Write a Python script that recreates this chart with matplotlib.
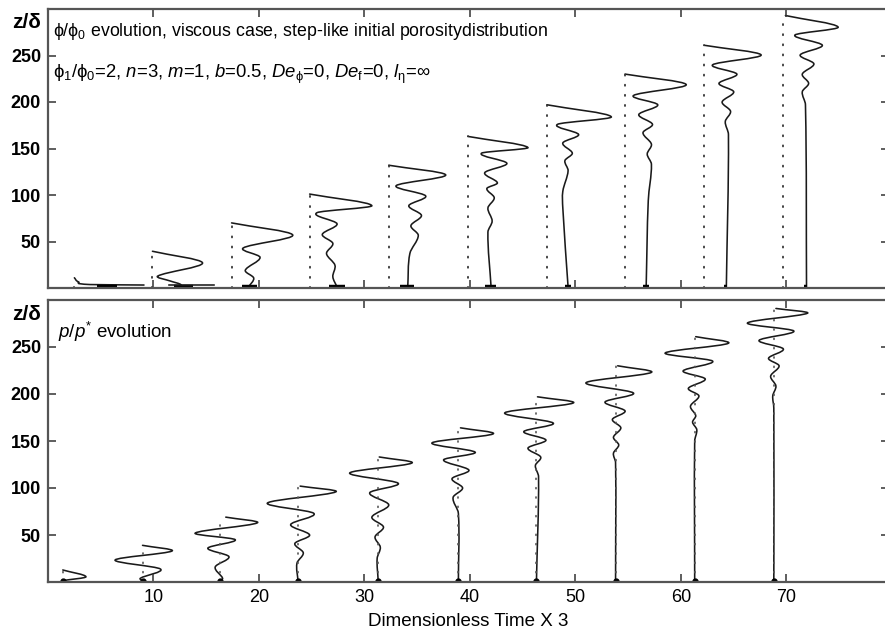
import matplotlib
matplotlib.use('Agg')
import matplotlib.pyplot as plt
from matplotlib.path import Path
from matplotlib.patches import PathPatch
import numpy as np

plt.rcParams['font.family'] = ['Liberation Sans', 'DejaVu Sans']
plt.rcParams['mathtext.fontset'] = 'custom'
plt.rcParams['mathtext.rm'] = 'Liberation Sans'
plt.rcParams['mathtext.it'] = 'Liberation Sans:italic'
plt.rcParams['mathtext.bf'] = 'Liberation Sans:bold'

# ---- porosity panel: time of each profile (dotted baseline) and profile points
top_t = [2.5, 9.9, 17.4, 24.8, 32.3, 39.8, 47.3, 54.7, 62.2, 69.7]
top_dx = [
    [0.0, 0.4, 1.5, 6.6],
    [0.0, 4.75, 0.5, 1.7, 2.65, 2.7],
    [0.0, 5.8, 1.1, 2.7, 1.3, 2.1, 1.6],
    [0.0, 5.9, 0.7, 2.6, 1.2, 2.2, 1.6, 2.4, 2.2, 2.6],
    [0.0, 5.4, 0.7, 3.5, 1.9, 3.1, 2.1, 2.8, 2.0, 1.8],
    [0.0, 5.7, 1.3, 3.7, 1.6, 2.8, 1.8, 2.5, 1.9, 2.3, 1.9, 2.2],
    [0.0, 6.1, 1.0, 3.0, 1.5, 2.4, 1.7, 2.0, 1.5, 1.5, 2.0],
    [0.0, 5.8, 0.8, 3.1, 1.3, 2.6, 1.7, 2.5, 2.1, 2.5, 2.2, 2.0],
    [0.0, 5.4, 0.8, 3.1, 1.4, 2.8, 1.7, 2.5, 2.0, 2.3, 2.1],
    [0.2, 5.2, 1.1, 3.7, 1.6, 2.9, 1.8, 2.4, 1.8, 2.1, 2.2],
]
top_z = [
    [11, 6.5, 3.7, 3.2],
    [39.5, 27, 12.8, 7.5, 4, 1],
    [70, 57, 43, 33, 19, 10.7, 1],
    [101, 88.5, 81, 69, 57.6, 48, 37, 24.5, 12, 1],
    [132, 121.6, 110, 99, 88.5, 78, 67, 56.5, 37, 1],
    [163, 151, 145, 134, 124, 113, 107, 97, 86, 72, 60, 1],
    [197, 184, 176, 165, 156, 145, 137, 126, 104, 86, 1],
    [230, 218.7, 207, 197, 186.5, 176, 167, 154.6, 144, 133, 94, 1],
    [261, 250.6, 240, 230, 220, 211, 200, 190, 179, 165, 1],
    [293, 280.5, 272, 261, 250.6, 241, 230, 220, 211, 197, 1],
]
# dark base blocks at the bottom of each porosity profile
top_bar_lo = [2.1, 2.0, 1.0, 1.8, 1.1, 1.6, 1.7, 1.7, 1.9, 2.0]
top_bar_hi = [4.0, 3.8, 2.4, 3.4, 2.4, 2.7, 2.3, 2.3, 2.2, 2.2]
# thin horizontal tail of the second profile
tail_lo, tail_hi, tail_z = 1.6, 5.8, 3.2

# ---- pressure panel
bot_t = [1.4, 8.96, 16.35, 23.7, 31.3, 38.9, 46.3, 53.8, 61.3, 68.8]
bot_dx = [
    [0.0, 2.2, 0.0],
    [0.0, 2.8, -2.6, 1.7, -0.2, 0.0],
    [0.5, 3.5, -2.4, 1.4, -1.2, 0.8, -0.5, 0.2, 0.0],
    [0.2, 3.6, -2.9, 1.5, -0.7, 1.1, -0.3, 0.5, -0.1, 0.0],
    [0.1, 3.2, -2.7, 1.9, -0.8, 1.0, -0.6, 0.5, -0.3, 0.2, -0.1, 0.0],
    [0.2, 3.3, -2.5, 1.6, -1.4, 1.0, -0.6, 0.4, -0.5, 0.0, 0.0],
    [0.1, 3.5, -3.0, 1.6, -1.2, 0.9, -0.8, 0.4, -0.1, 0.2, 0.0],
    [0.2, 3.4, -2.8, 1.7, -1.0, 0.9, -0.3, 0.5, -0.2, 0.3, -0.2, 0.0, 0.0],
    [0.1, 3.2, -2.8, 1.7, -1.1, 1.0, -0.6, 0.4, -0.4, 0.1, -0.2, 0.2, 0.0, 0.0],
    [0.2, 3.2, -2.5, 1.9, -1.4, 0.9, -0.5, 0.5, -0.3, 0.2, -0.1, 0.0, 0.0],
]
bot_z = [
    [12.8, 5.5, 1.5],
    [39, 33, 23.4, 13.8, 4, 1],
    [69, 63, 52, 45, 36, 27, 16, 4, 1],
    [102, 96, 84, 73, 61, 50, 41, 31, 20, 1],
    [133, 126.6, 116, 105, 95, 82, 69, 58.5, 48, 37, 25, 1],
    [164, 157.6, 148, 138, 130, 119, 110, 100, 90, 73, 1],
    [197, 190.5, 180, 169, 160, 151, 142.5, 133, 124, 112, 1],
    [230, 223, 212, 201, 191.5, 182, 173, 164, 154, 145.7, 137, 127, 1],
    [261, 254, 243.6, 235, 224.5, 216, 206, 198, 187, 177, 170, 162, 150, 1],
    [291, 286, 275.5, 267, 257, 248, 238, 230, 219, 208.5, 198, 185, 1],
]

xticks = [10, 20, 30, 40, 50, 60, 70]
yticks = [50, 100, 150, 200, 250]

LINE = '#1a1a1a'
FRAME = '#555555'


def draw_wave(ax, t, dx, z):
    # smooth curve through the read points, parametrised along z
    x = t + np.asarray(dx, float)
    z = np.asarray(z, float)
    n = len(x)
    slope = np.empty(n)
    for i in range(n):
        a, b = max(i - 1, 0), min(i + 1, n - 1)
        slope[i] = (x[b] - x[a]) / (z[b] - z[a])
    verts = [(x[0], z[0])]
    codes = [Path.MOVETO]
    for i in range(n - 1):
        h = (z[i + 1] - z[i]) / 3.0
        verts += [(x[i] + slope[i] * h, z[i] + h),
                  (x[i + 1] - slope[i + 1] * h, z[i + 1] - h),
                  (x[i + 1], z[i + 1])]
        codes += [Path.CURVE4] * 3
    ax.add_patch(PathPatch(Path(verts, codes), fill=False, lw=1.15,
                           ec=LINE, capstyle='round', joinstyle='round'))


def style(ax):
    ax.set_xlim(0, 79.7)
    ax.set_ylim(0, 300)
    ax.set_xticks(xticks)
    ax.set_yticks(yticks)
    ax.tick_params(direction='in', length=6, width=1.1, color='#333333',
                   top=True, right=True, labelsize=13, pad=5)
    for lab in ax.get_yticklabels():
        lab.set_fontweight('bold')
    for s in ax.spines.values():
        s.set_color(FRAME)
        s.set_linewidth(1.6)


fig = plt.figure(figsize=(8.85, 6.38), dpi=100)
ax1 = fig.add_axes([48 / 885, 1 - 288 / 638, 840.8 / 885, 279 / 638])
ax2 = fig.add_axes([48 / 885, 1 - 582 / 638, 840.8 / 885, 282 / 638])

for t, dx, z, lo, hi in zip(top_t, top_dx, top_z, top_bar_lo, top_bar_hi):
    ax1.plot([t, t], [0, z[0]], ls=(0, (0.6, 5)), lw=1.3, color='#333333',
             dash_capstyle='round')
    draw_wave(ax1, t, dx, z)
    ax1.plot([t + lo, t + hi], [1.6, 1.6], lw=3.2, color='k',
             solid_capstyle='butt')
ax1.plot([top_t[1] + tail_lo, top_t[1] + tail_hi], [tail_z, tail_z],
         lw=1.15, color=LINE)

for t, dx, z in zip(bot_t, bot_dx, bot_z):
    ax2.plot([t, t], [0, z[0]], ls=(0, (0.6, 5)), lw=1.2, color='#555555',
             dash_capstyle='round')
    draw_wave(ax2, t, dx, z)
    ax2.plot(t, 1.5, 'o', ms=3.5, color='k')

style(ax1)
style(ax2)
ax1.tick_params(labelbottom=False)
ax2.set_xlabel('Dimensionless Time X 3', fontsize=13.5, labelpad=5)

fig.text(12 / 885, 1 - 23 / 638, 'z/δ', fontsize=15, fontweight='bold',
         va='center', ha='left')
fig.text(12 / 885, 1 - 315 / 638, 'z/δ', fontsize=15, fontweight='bold',
         va='center', ha='left')

ax1.text(53 / 885, 1 - 31 / 638,
         'ϕ/ϕ$_0$ evolution, viscous case, step-like initial porositydistribution',
         transform=fig.transFigure, fontsize=12.8, va='center', ha='left')
ax1.text(53 / 885, 1 - 74 / 638,
         r'ϕ$_1$/ϕ$_0$=2, $n$=3, $m$=1, $b$=0.5, $De_{\mathrm{ϕ}}$=0, '
         r'$De_{\mathrm{f}}$=0, $l_{\mathrm{η}}$=∞',
         transform=fig.transFigure, fontsize=13.3, va='center', ha='left')
ax2.text(58 / 885, 1 - 332 / 638, r'$p/p^{*}$ evolution',
         transform=fig.transFigure, fontsize=13.5, va='center', ha='left')

fig.savefig('out.png', dpi=100)
